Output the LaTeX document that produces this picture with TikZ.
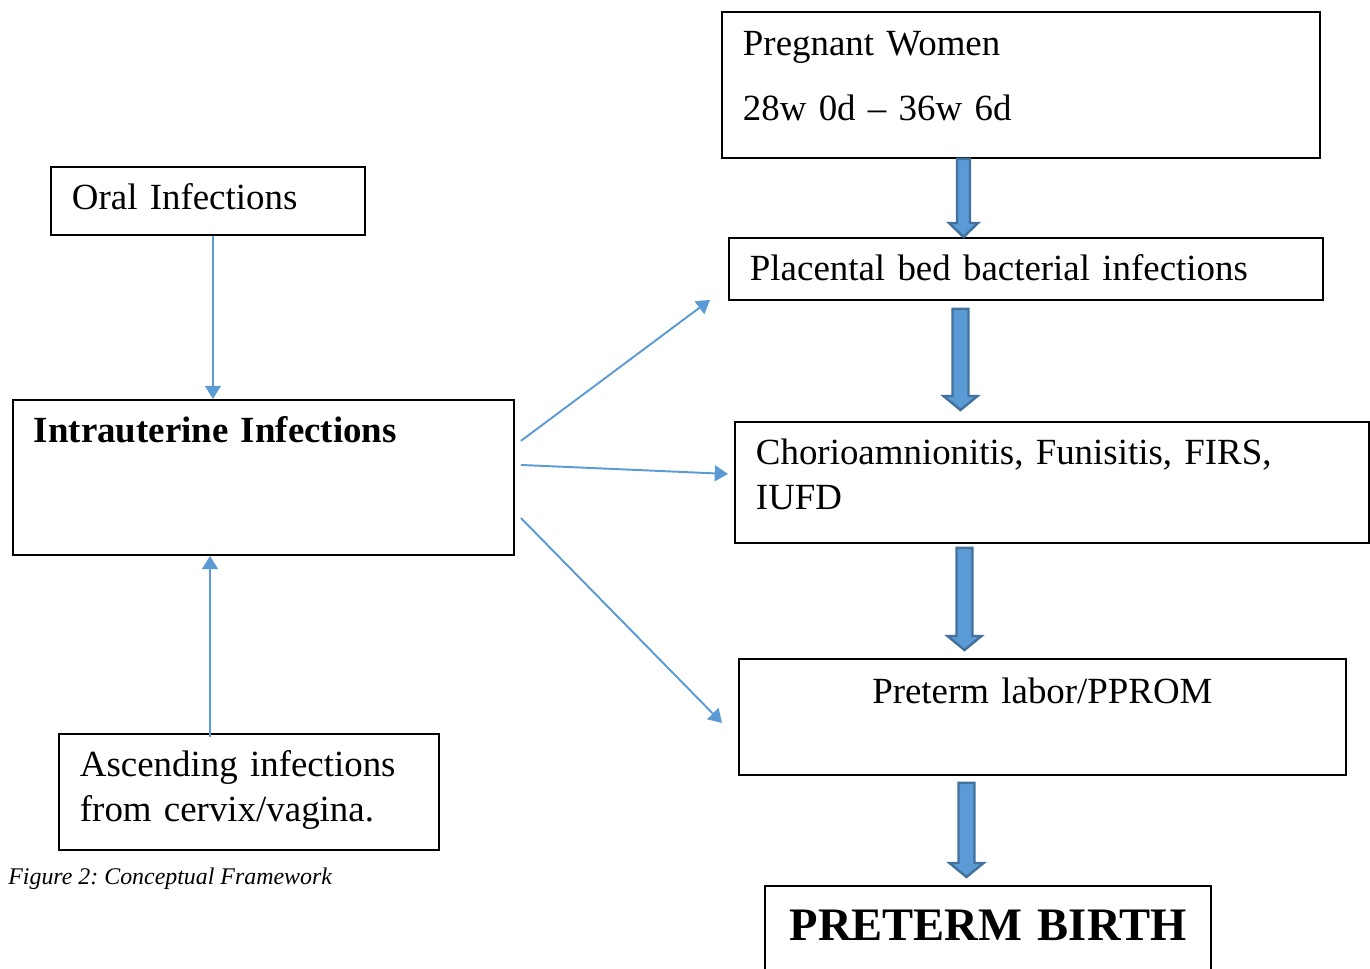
\documentclass[tikz,border=0pt]{standalone}
\usepackage{fontspec}
\setmainfont{Liberation Serif}
\usetikzlibrary{arrows.meta,calc}
\frenchspacing
\definecolor{arrowblue}{HTML}{5B9BD5}
\definecolor{arrowedge}{HTML}{41719C}
\newcommand{\boxfont}{\fontsize{21}{25.5}\selectfont}
% block arrow: x, from node, top gap, to node, bottom gap, shaft half width, head half width
\newcommand{\blockarrow}[7]{%
  \path (#1,0) coordinate (bx);
  \path (bx |- #2.south) ++(0,#3) coordinate (bt);
  \path (bx |- #4.north) ++(0,-#5) coordinate (bb);
  \draw[blockarrow] ($(bt)+(-#6,0)$) -- ($(bt)+(#6,0)$) -- ($(bb)+(#6,-14)$) -- ($(bb)+(#7,-14)$)
    -- (bb) -- ($(bb)+(-#7,-14)$) -- ($(bb)+(-#6,-14)$) -- cycle;
}

\begin{document}
\begin{tikzpicture}[x=0.02cm,y=-0.02cm,
    framebox/.style={draw, line width=1.1pt, anchor=north west, inner ysep=0pt, inner xsep=0.42cm, align=left, font=\boxfont},
    thinarrow/.style={draw=arrowblue, line width=1.1pt, -{Triangle[width=9pt,length=7.5pt]}},
    blockarrow/.style={fill=arrowblue, draw=arrowedge, line width=1.4pt, line join=miter}]
        \useasboundingbox (0,0) rectangle (1370,969);
        % boxes
        \node[framebox, text width=11.12cm, text height=0.88cm, text depth=2.04cm] (women) at (721,11) {Pregnant Women\\[11.5pt]28w 0d -- 36w 6d};
        \node[framebox, text width=5.44cm, text height=0.86cm, text depth=0.5cm] (oral) at (50,166) {Oral Infections};
        \node[framebox, text width=11.04cm, text height=0.86cm, text depth=0.38cm] (placental) at (728,237) {Placental bed bacterial infections};
        \node[framebox, text width=9.18cm, text height=0.86cm, text depth=2.24cm] (intra) at (12,399) {\bfseries Intrauterine Infections};
        \node[framebox, text width=11.84cm, text height=0.86cm, text depth=1.56cm] (chorio) at (734,421) {Chorioamnionitis, Funisitis, FIRS,\\IUFD};
        \node[framebox, align=center, text width=11.3cm, text height=0.9cm, text depth=1.42cm] (labor) at (738,658) {Preterm labor/PPROM};
        \node[framebox, text width=6.76cm, text height=0.86cm, text depth=1.46cm] (ascending) at (58,733) {Ascending infections\\from cervix/vagina.};
        \node[framebox, align=center, inner xsep=0.05cm, text width=8.82cm, text height=1.1cm, text depth=1.3cm, font=\fontsize{26.5}{32}\selectfont\bfseries] (birth) at (764,885) {PRETERM BIRTH};
        \node[anchor=base west, inner sep=0pt, font=\fontsize{13.6}{16}\selectfont\itshape] (caption) at (8,884) {Figure 2: Conceptual Framework};
        % thin arrows
        \draw[thinarrow] ($(oral.south)+(5,0)$) coordinate (oralfoot) -- (oralfoot |- intra.north);
        \draw[thinarrow] ($(ascending.north west)+(152,4)$) coordinate (asctop) -- (asctop |- intra.south);
        \coordinate (toplacental) at ($(placental.south west)+(-18,-1)$);
        \coordinate (tochorio) at ($(chorio.west)+(-6,-8.5)$);
        \coordinate (tolabor) at ($(labor.west)+(-16,6)$);
        \draw[thinarrow] ($(intra.east)+(6,-36.5)$) -- (toplacental);
        \draw[thinarrow] ($(intra.east)+(6,-12.5)$) -- (tochorio);
        \draw[thinarrow] ($(intra.east)+(6,40.5)$) -- (tolabor);
        % block arrows
        \blockarrow{963.5}{women}{0}{placental}{0}{6.5}{14.5}
        \blockarrow{960.5}{placental}{8}{chorio}{11}{8}{17}
        \blockarrow{964.5}{chorio}{4}{labor}{8}{8}{17}
        \blockarrow{966.5}{labor}{7}{birth}{8}{8}{17}
\end{tikzpicture}
\end{document}
